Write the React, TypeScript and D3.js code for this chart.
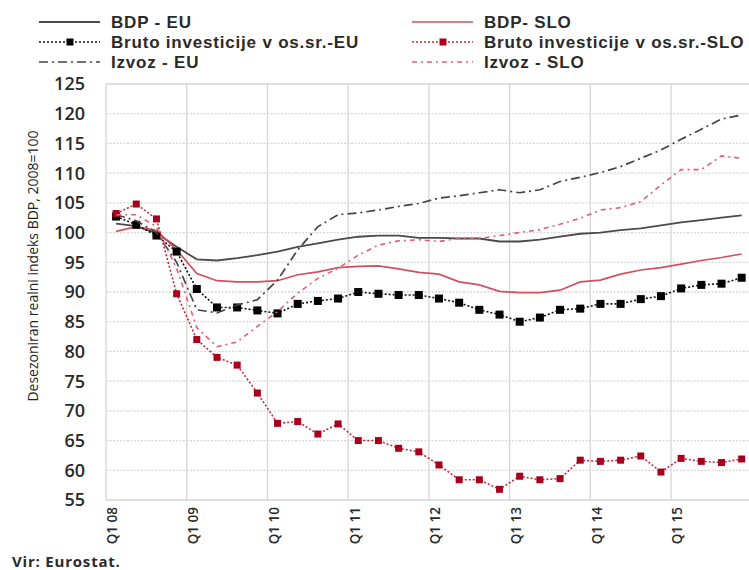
import React from 'react';
import * as d3 from 'd3';

const years = ['08', '09', '10', '11', '12', '13', '14', '15'];
const quarters = years.flatMap(y => ['Q1', 'Q2', 'Q3', 'Q4'].map(q => `${q} ${y}`));
const tickLabels = years.map(y => `Q1 ${y}`);
const yTicks = [55, 60, 65, 70, 75, 80, 85, 90, 95, 100, 105, 110, 115, 120, 125];

const bdpEU = [101.5, 101.1, 99.9, 97.6, 95.5, 95.3, 95.7, 96.2, 96.8, 97.6, 98.2, 98.8, 99.3, 99.5, 99.5, 99.1,
  99.1, 99.0, 99.0, 98.5, 98.5, 98.8, 99.3, 99.8, 100.0, 100.4, 100.7, 101.2, 101.7, 102.1, 102.5, 102.9];
const bdpSLO = [100.2, 101.0, 100.4, 97.1, 93.1, 91.9, 91.7, 91.7, 91.9, 92.9, 93.4, 94.1, 94.3, 94.4, 93.9, 93.3,
  93.0, 91.7, 91.2, 90.1, 89.9, 89.9, 90.3, 91.7, 92.0, 93.0, 93.7, 94.1, 94.7, 95.3, 95.8, 96.4];
const invEU = [102.7, 101.3, 99.5, 96.8, 90.5, 87.4, 87.4, 86.9, 86.4, 88.0, 88.5, 88.9, 90.0, 89.7, 89.5, 89.5,
  88.9, 88.2, 87.0, 86.2, 85.0, 85.7, 87.0, 87.2, 88.0, 88.0, 88.8, 89.3, 90.6, 91.2, 91.4, 92.4];
const invSLO = [103.2, 104.8, 102.3, 89.7, 82.0, 79.0, 77.7, 73.0, 67.9, 68.2, 66.1, 67.8, 65.0, 65.0, 63.7, 63.1,
  60.9, 58.4, 58.4, 56.8, 59.0, 58.4, 58.6, 61.7, 61.5, 61.7, 62.4, 59.7, 62.0, 61.5, 61.3, 61.9];
const izvozEU = [103.0, 102.0, 100.0, 95.0, 87.0, 86.5, 87.8, 88.7, 92.0, 97.1, 101.0, 103.0, 103.3, 103.8, 104.4, 104.9,
  105.8, 106.2, 106.7, 107.2, 106.7, 107.2, 108.6, 109.3, 110.1, 111.1, 112.5, 113.9, 115.7, 117.4, 119.1, 119.8];
const izvozSLO = [103.0, 103.0, 101.0, 94.0, 84.0, 80.8, 81.6, 84.2, 86.7, 89.8, 92.3, 94.0, 96.2, 97.9, 98.6, 98.8,
  98.5, 99.0, 99.0, 99.5, 100.0, 100.5, 101.4, 102.4, 103.8, 104.2, 105.2, 108.0, 110.6, 110.6, 112.9, 112.5];

type Series = {
  name: string;
  values: number[];
  color: string;
  width: number;
  dash?: string;
  marker?: { size: number; color: string };
};

const series: Series[] = [
  { name: 'BDP - EU', values: bdpEU, color: '#4a4a4a', width: 1.8 },
  { name: 'BDP- SLO', values: bdpSLO, color: '#d3505e', width: 1.7 },
  { name: 'Bruto investicije v os.sr.-EU', values: invEU, color: '#111111', width: 1.6, dash: '2,2', marker: { size: 8, color: '#000000' } },
  { name: 'Bruto investicije v os.sr.-SLO', values: invSLO, color: '#c8283c', width: 1.6, dash: '2,2', marker: { size: 7, color: '#a8001c' } },
  { name: 'Izvoz - EU', values: izvozEU, color: '#444444', width: 1.7, dash: '9,4,2,4' },
  { name: 'Izvoz - SLO', values: izvozSLO, color: '#e0607a', width: 1.6, dash: '5,4,2,4' },
];

const W = 749;
const H = 570;
const left = 106;
const top = 84;
const bottom = 500;
const step = 20.18;

const font = "'Open Sans', 'Liberation Sans', sans-serif";
const legendFont = "'Liberation Sans', Arial, sans-serif";

export default function App() {
  const x = d3.scaleBand<string>().domain(quarters).range([left, left + step * quarters.length]).paddingInner(0).paddingOuter(0);
  const y = d3.scaleLinear().domain([55, 125]).range([bottom, top]);
  const cx = (q: string) => (x(q) ?? 0) + x.bandwidth() / 2;

  const line = d3.line<number>()
    .x((_, i) => cx(quarters[i]))
    .y(d => y(d))
    .curve(d3.curveLinear);

  const legendRows = [
    [series[0], series[1]],
    [series[2], series[3]],
    [series[4], series[5]],
  ];
  const legendY = [22, 42, 62];
  const legendX = [39, 412];

  return (
    <svg width={W} height={H} style={{ position: 'absolute', left: 0, top: 0, background: '#fff' }} fontFamily={font}>
      {/* grid */}
      {yTicks.map(t => (
        <line key={'h' + t} x1={left} x2={W} y1={y(t)} y2={y(t)} stroke="#d6d6d6" strokeWidth={1.3}
          strokeDasharray={t === 55 || t === 125 ? undefined : '2,1.5'} />
      ))}
      {tickLabels.map(q => (
        <line key={'v' + q} x1={x(q)} x2={x(q)} y1={top} y2={bottom} stroke="#d6d6d6" strokeWidth={1.3} />
      ))}

      {/* y ticks */}
      {yTicks.map(t => (
        <text key={'yt' + t} x={85} y={y(t)} dy="0.36em" textAnchor="end" fontSize={18} fontWeight={600} fill="#2a2a2a">{t}</text>
      ))}
      <text transform={`translate(33,266) rotate(-90)`} textAnchor="middle" dy="0.35em" fontSize={14} fill="#222">
        Desezoniran realni indeks BDP, 2008=100
      </text>

      {/* x ticks */}
      {tickLabels.map(q => (
        <text key={'xt' + q} transform={`translate(${(x(q) ?? 0) + 6.5},${bottom + 7}) rotate(-90)`} textAnchor="end"
          dy="0.36em" fontSize={13.5} fontWeight={600} fill="#2a2a2a">{q}</text>
      ))}

      {/* series */}
      {series.map(s => (
        <g key={s.name}>
          <path d={line(s.values) ?? ''} fill="none" stroke={s.color} strokeWidth={s.width} strokeDasharray={s.dash} />
          {s.marker && s.values.map((v, i) => (
            <rect key={i} x={cx(quarters[i]) - s.marker!.size / 2} y={y(v) - s.marker!.size / 2}
              width={s.marker!.size} height={s.marker!.size} fill={s.marker!.color} />
          ))}
        </g>
      ))}

      {/* legend */}
      {legendRows.map((row, r) => row.map((s, c) => (
        <g key={s.name} transform={`translate(${legendX[c]},${legendY[r]})`}>
          <line x1={0} x2={61} y1={0} y2={0} stroke={s.color} strokeWidth={s.width} strokeDasharray={s.dash} />
          {s.marker && <rect x={31 - 3.5} y={-3.5} width={7} height={7} fill={s.marker.color} />}
          <text x={72} y={0} dy="0.36em" fontFamily={legendFont} fontSize={17} fontWeight={700} letterSpacing={0.8}
            fill="#2a2a2a">{s.name}</text>
        </g>
      )))}

      <text x={12} y={567} fontSize={15} fontWeight={700} letterSpacing={0.8} fill="#2a2a2a">Vir: Eurostat.</text>
    </svg>
  );
}
